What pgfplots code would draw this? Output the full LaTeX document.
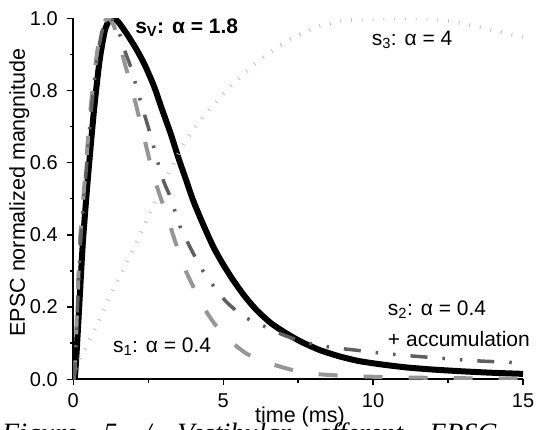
\documentclass[border=0pt]{standalone}
\usepackage{fontspec}
\setmainfont{Liberation Sans}
\newfontfamily\capfont{Liberation Serif}
\usepackage{pgfplots}
\pgfplotsset{compat=1.18}
\usepackage{pgfplotstable}

\pgfplotstableread{
t v
0 0
0.05 0.005
0.1 0.06
0.19 0.19
0.32 0.38
0.49 0.56
0.69 0.745
0.88 0.885
1.05 0.965
1.18 0.992
1.32 1.0
1.5 0.99
1.8 0.955
2.1 0.915
2.39 0.87
2.7 0.81
2.95 0.75
3.25 0.68
3.5 0.615
3.75 0.555
4.0 0.495
4.3 0.435
4.67 0.367
5.0 0.318
5.33 0.275
5.7 0.232
6.11 0.192
6.6 0.155
7.11 0.127
7.6 0.104
8.22 0.081
8.9 0.063
9.5 0.051
10.2 0.042
11.1 0.033
12 0.027
13 0.022
14 0.018
15 0.015
}\sv

\pgfplotstableread{
t v
0 0
0.05 0.03
0.13 0.2
0.22 0.38
0.39 0.56
0.57 0.745
0.76 0.885
0.92 0.965
1.08 0.995
1.2 1.0
1.35 0.98
1.5 0.94
1.75 0.865
1.97 0.80
2.33 0.68
2.7 0.557
3.17 0.441
3.65 0.32
4.28 0.21
4.7 0.155
5.15 0.112
5.8 0.07
6.56 0.044
7.3 0.026
8.06 0.015
9 0.01
10 0.007
11 0.005
12 0.004
13 0.003
14 0.002
15 0.002
}\sone

\pgfplotstableread{
t v
0 0
0.05 0.03
0.14 0.2
0.24 0.38
0.41 0.56
0.6 0.745
0.79 0.885
0.96 0.965
1.12 0.995
1.25 1.0
1.4 0.985
1.55 0.955
1.7 0.914
1.92 0.864
2.15 0.797
2.39 0.729
2.6 0.67
2.78 0.612
3.03 0.545
3.26 0.50
3.56 0.423
3.89 0.367
4.25 0.31
4.61 0.266
5.1 0.215
5.61 0.178
6.0 0.16
6.39 0.146
7.0 0.123
7.78 0.101
8.67 0.088
9.5 0.08
10.2 0.073
10.95 0.067
12 0.06
13.28 0.052
14 0.049
15 0.045
}\stwo

\pgfplotstableread{
t v
0 0
0.16 0.045
0.5 0.1
0.9 0.17
1.4 0.26
2.0 0.36
2.5 0.45
3.0 0.54
3.67 0.65
4.33 0.727
5.17 0.805
6.11 0.878
6.56 0.905
7.1 0.935
7.67 0.96
8.2 0.978
8.78 0.99
9.5 0.997
10.45 1.0
11.67 1.0
12.5 0.993
13.45 0.977
14.2 0.963
15 0.948
}\sthree

\definecolor{lightgr}{RGB}{150,150,150}
\definecolor{darkgr}{RGB}{95,95,95}
\definecolor{faintgr}{RGB}{190,190,190}

\begin{document}
\begin{tikzpicture}
\path[use as bounding box] (-73.3pt,-50.7pt) rectangle (463.7pt,379.3pt);
\clip (-73.3pt,-50.7pt) rectangle (463.7pt,379.3pt);
\begin{axis}[
  at={(0pt,0pt)}, anchor=origin,
  scale only axis, width=449.7pt, height=361pt,
  xmin=0, xmax=15, ymin=0, ymax=1,
  axis lines*=left,
  axis line style={line width=1.6pt},
  xtick={0,5,10,15}, minor xtick={2.5,7.5,12.5},
  ytick={0,0.2,0.4,0.6,0.8,1}, minor ytick={0.1,0.3,0.5,0.7,0.9},
  tick align=outside, major tick length=6pt, minor tick length=3.5pt,
  tick style={black, line width=1.4pt},
  /pgf/number format/assume math mode=true,
  tick label style={font=\fontsize{20}{24}\selectfont},
  yticklabel style={/pgf/number format/.cd, fixed, fixed zerofill, precision=1, /tikz/.cd,
    anchor=east, inner sep=0pt, xshift=-9.3pt},
  xticklabel style={anchor=base, inner sep=0pt, yshift=-22pt},
  xlabel={time (ms)},
  xlabel style={at={(axis description cs:0.504,-0.121)}, anchor=base, inner sep=0pt,
    font=\fontsize{21.5}{25}\selectfont},
  ylabel={EPSC normalized mangnitude},
  ylabel style={at={(axis description cs:-0.1074,0.5175)}, anchor=base, inner sep=0pt,
    font=\fontsize{21.5}{25}\selectfont},
  clip mode=individual,
]
\addplot[black, line width=6pt, smooth, tension=0.4] table[x=t,y=v] {\sv};
\addplot[faintgr, line width=4pt, dash pattern=on 0.8pt off 10pt, smooth, tension=0.4] table[x=t,y=v] {\sthree};
\addplot[lightgr, line width=4pt, dash pattern=on 19pt off 26pt, smooth, tension=0.4] table[x=t,y=v] {\sone};
\addplot[darkgr, line width=3.5pt, dash pattern=on 17pt off 15pt on 2.5pt off 15pt on 2.5pt off 15pt, smooth, tension=0.4] table[x=t,y=v] {\stwo};

\node[anchor=base west, inner sep=0pt, font=\fontsize{21}{25}\selectfont\bfseries] at (axis cs:2.06,0.959) {s\textsubscript{V}: α = 1.8};
\node[anchor=base west, inner sep=0pt, font=\fontsize{21}{25}\selectfont] at (axis cs:9.95,0.926) {s\textsubscript{3}: α = 4};
\node[anchor=base west, inner sep=0pt, font=\fontsize{21}{25}\selectfont] at (axis cs:1.32,0.0737) {s\textsubscript{1}: α = 0.4};
\node[anchor=base west, inner sep=0pt, font=\fontsize{21}{25}\selectfont] at (axis cs:10.49,0.178) {s\textsubscript{2}: α = 0.4};
\node[anchor=base west, inner sep=0pt, font=\fontsize{21}{25}\selectfont] at (axis cs:10.49,0.0903) {+ accumulation};
\end{axis}
\node[anchor=base west, inner sep=0pt, font=\capfont\itshape\fontsize{28}{32}\selectfont] at (-71.3pt,-62.7pt) {\makebox[494pt][s]{Figure 5 / Vestibular afferent EPSC}};
\end{tikzpicture}
\end{document}
